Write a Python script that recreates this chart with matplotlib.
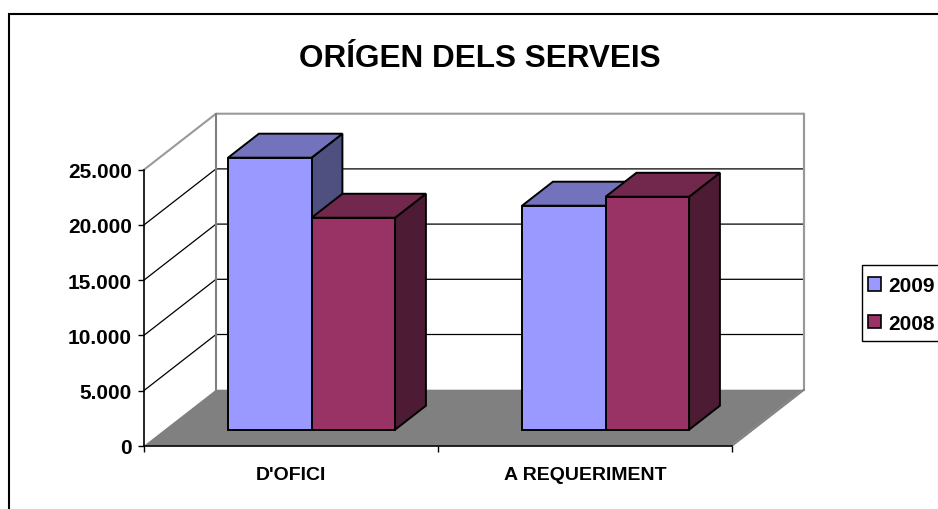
import matplotlib
matplotlib.use("Agg")
import matplotlib.pyplot as plt
from matplotlib.patches import Polygon, Patch, Rectangle
from matplotlib.lines import Line2D

plt.rcParams['font.family'] = ['Liberation Sans', 'DejaVu Sans']
plt.rcParams['font.weight'] = 'bold'

categories = ["D'OFICI", "A REQUERIMENT"]
series_names = ["2009", "2008"]
values_2009 = [24640, 20290]
values_2008 = [19200, 21100]
yticks = [0, 5000, 10000, 15000, 20000, 25000]
ytick_labels = ["0", "5.000", "10.000", "15.000", "20.000", "25.000"]

W, H = 938, 510
fig = plt.figure(figsize=(W / 100, H / 100), dpi=100, facecolor="white")
# front plane of the fake 3d box
ax = fig.add_axes([144 / W, 1 - 446.7 / H, 588 / W, 276 / H])
ax.set_xlim(0, 2)
ax.set_ylim(0, 25000)
ax.patch.set_visible(False)

# full depth of the box in data units
DX = 72 / 294
DY = 56 / 276 * 25000


def proj(x, y, d):
    return (x + d * DX, y + d * DY)


# floor
ax.add_patch(Polygon([proj(0, 0, 0), proj(2, 0, 0), proj(2, 0, 1), proj(0, 0, 1)],
                     fc="#808080", ec="none", zorder=1, clip_on=False))

# walls and gridlines
for y in yticks[1:-1]:
    ax.plot(*zip(proj(0, y, 0), proj(0, y, 1), proj(2, y, 1)), color="black", lw=0.9,
            zorder=2, clip_on=False, solid_joinstyle="miter")
ax.plot(*zip(proj(0, 25000, 0), proj(0, 25000, 1), proj(2, 25000, 1), proj(2, 0, 1), proj(2, 0, 0)),
        color="#999999", lw=1.5, zorder=2, clip_on=False)
ax.plot(*zip(proj(0, 0, 1), proj(0, 25000, 1)), color="#808080", lw=1.5, zorder=2, clip_on=False)
ax.plot(*zip(proj(2, 25000, 1), proj(2, 0, 1)), color="#999999", lw=1.5, zorder=2, clip_on=False)
ax.plot(*zip(proj(2, 0, 1), proj(2, 0, 0)), color="#808080", lw=1, zorder=2, clip_on=False)

bar_w = 0.284
d0, d1 = 0.286, 0.714
faces = {"2009": ("#9999FF", "#7373BD", "#4F4F80"),
         "2008": ("#993366", "#72284C", "#4E1B34")}


def draw_bar(x0, x1, v, cols, z):
    front, top, side = cols
    pts = [
        ([proj(x1, 0, d0), proj(x1, 0, d1), proj(x1, v, d1), proj(x1, v, d0)], side),
        ([proj(x0, v, d0), proj(x1, v, d0), proj(x1, v, d1), proj(x0, v, d1)], top),
        ([proj(x0, 0, d0), proj(x1, 0, d0), proj(x1, v, d0), proj(x0, v, d0)], front),
    ]
    for p, c in pts:
        ax.add_patch(Polygon(p, fc=c, ec="black", lw=1.4, zorder=z, clip_on=False,
                             joinstyle="miter"))


for i in range(len(categories)):
    c = i + 0.5
    draw_bar(c - bar_w, c, values_2009[i], faces["2009"], 3)
    draw_bar(c, c + bar_w, values_2008[i], faces["2008"], 4)

# axes
for s in ["top", "right"]:
    ax.spines[s].set_visible(False)
for s in ["left", "bottom"]:
    ax.spines[s].set_linewidth(1.2)
    ax.spines[s].set_zorder(5)
ax.set_yticks(yticks)
ax.set_yticklabels(ytick_labels, fontsize=15, fontweight="bold")
ax.tick_params(axis="y", length=4.5, width=1, pad=4.3)
ax.set_xticks([0, 1, 2])
ax.set_xticklabels([])
ax.tick_params(axis="x", which="major", length=4.5, width=1)
ax.set_xticks([0.5, 1.5], minor=True)
ax.set_xticklabels(categories, minor=True, fontsize=14, fontweight="bold")
ax.tick_params(axis="x", which="minor", length=0, pad=14.3)

fig.text(480 / W, 1 - 59 / H, "ORÍGEN DELS SERVEIS", fontsize=22.7, fontweight="bold",
         ha="center", va="center")

# legend, its box is drawn apart and runs off the right edge
fig.add_artist(Rectangle((861.5 / W, 1 - 342 / H), 90 / W, 76 / H, fc="white", ec="black", lw=1,
                         transform=fig.transFigure))
handles = [Patch(fc=faces[n][0], ec="black", lw=1.2) for n in series_names]
leg = fig.legend(handles, series_names, loc="upper left",
                 bbox_to_anchor=(860.5 / W, 1 - 270 / H), fontsize=15, frameon=False,
                 borderaxespad=0,
                 handlelength=0.62, handleheight=0.62, handletextpad=0.38,
                 labelspacing=0.9, borderpad=0.34)

# outer chart frame, runs off the picture on the right and bottom
fig.add_artist(Line2D([8.5 / W, 8.5 / W, 1], [-0.01, 1 - 14.5 / H, 1 - 14.5 / H], color="black", lw=1.5,
                      transform=fig.transFigure, solid_joinstyle="miter"))

fig.savefig("out.png", dpi=100)
